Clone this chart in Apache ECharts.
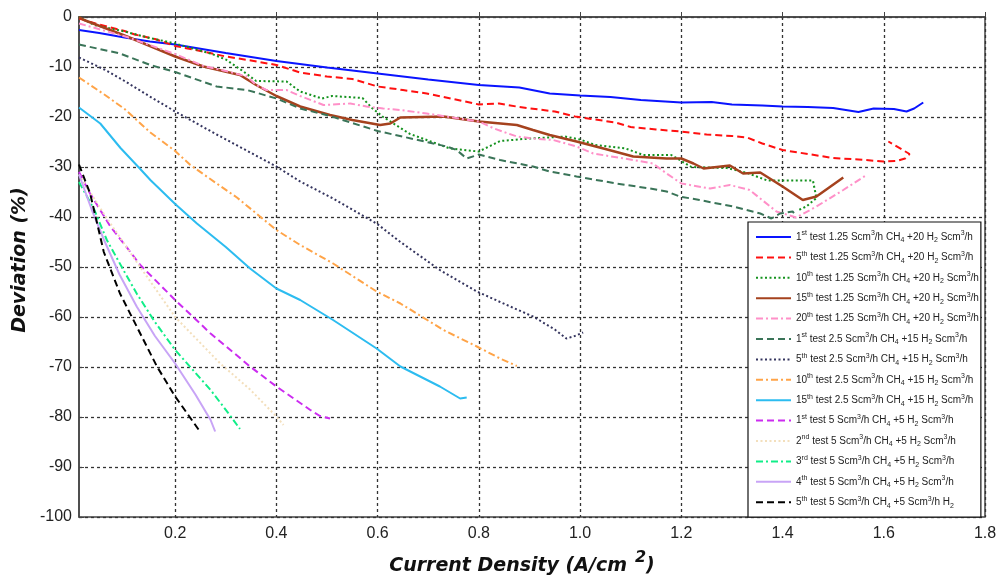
<!DOCTYPE html>
<html>
<head>
<meta charset="utf-8">
<script src="https://cdn.jsdelivr.net/npm/echarts@6/dist/echarts.min.js"></script>
<style>
  html, body { margin: 0; padding: 0; background: #fff; }
  #chart { width: 1002px; height: 575px; }
</style>
</head>
<body>
<div id="chart"></div>
<script>
// Deviation (%) versus current density (A/cm2) for each test run
const seriesNames = [
  '1st test 1.25 Scm3/h CH4 +20 H2 Scm3/h',
  '5th test 1.25 Scm3/h CH4 +20 H2 Scm3/h',
  '10th test 1.25 Scm3/h CH4 +20 H2 Scm3/h',
  '15th test 1.25 Scm3/h CH4 +20 H2 Scm3/h',
  '20th test 1.25 Scm3/h CH4 +20 H2 Scm3/h',
  '1st test 2.5 Scm3/h CH4 +15 H2 Scm3/h',
  '5th test 2.5 Scm3/h CH4 +15 H2 Scm3/h',
  '10th test 2.5 Scm3/h CH4 +15 H2 Scm3/h',
  '15th test 2.5 Scm3/h CH4 +15 H2 Scm3/h',
  '1st test 5 Scm3/h CH4 +5 H2 Scm3/h',
  '2nd test 5 Scm3/h CH4 +5 H2 Scm3/h',
  '3rd test 5 Scm3/h CH4 +5 H2 Scm3/h',
  '4th test 5 Scm3/h CH4 +5 H2 Scm3/h',
  '5th test 5 Scm3/h CH4 +5 Scm3/h H2'
];

const xTicks = [0.2, 0.4, 0.6, 0.8, 1.0, 1.2, 1.4, 1.6, 1.8];

const ch4_125_t1 = [[0.01,-2.6],[0.05,-3.2],[0.1,-4.1],[0.15,-4.9],[0.2,-5.5],[0.3,-7.2],[0.4,-8.8],[0.5,-10.1],[0.6,-11.3],[0.7,-12.5],[0.8,-13.6],[0.88,-14.1],[0.94,-15.3],[1.0,-15.7],[1.06,-16.0],[1.12,-16.6],[1.2,-17.1],[1.26,-17.0],[1.3,-17.5],[1.36,-17.7],[1.4,-17.9],[1.45,-18.0],[1.5,-18.2],[1.55,-19.0],[1.58,-18.3],[1.62,-18.4],[1.645,-18.9],[1.66,-18.3],[1.678,-17.1]];
const ch4_125_t5 = [[0.01,-0.3],[0.05,-1.5],[0.1,-2.8],[0.12,-3.5],[0.16,-4.4],[0.2,-5.8],[0.25,-6.8],[0.3,-7.9],[0.35,-8.7],[0.4,-9.6],[0.447,-11.1],[0.5,-11.9],[0.55,-12.4],[0.6,-13.9],[0.65,-14.6],[0.697,-15.3],[0.75,-16.4],[0.8,-17.5],[0.84,-17.3],[0.88,-18.0],[0.95,-18.9],[0.99,-19.9],[1.07,-21.1],[1.1,-22.0],[1.15,-22.5],[1.2,-22.9],[1.25,-23.5],[1.3,-23.8],[1.33,-24.1],[1.36,-25.3],[1.4,-26.6],[1.45,-27.4],[1.5,-28.2],[1.55,-28.5],[1.6,-28.9],[1.625,-28.8],[1.642,-28.3],[1.651,-27.4],[1.609,-24.9]];
const ch4_125_t10 = [[0.01,0],[0.04,-1.6],[0.1,-2.9],[0.15,-4.2],[0.2,-5.3],[0.27,-7.3],[0.3,-8.5],[0.335,-10.9],[0.36,-12.8],[0.42,-12.9],[0.447,-14.9],[0.49,-16.3],[0.51,-15.8],[0.57,-16.2],[0.59,-18.3],[0.611,-20.0],[0.664,-23.4],[0.697,-24.6],[0.743,-26.3],[0.8,-26.9],[0.842,-24.8],[0.9,-24.3],[0.97,-23.9],[1.0,-24.5],[1.03,-25.6],[1.09,-26.3],[1.125,-27.6],[1.18,-27.6],[1.22,-30.0],[1.29,-30.2],[1.33,-31.2],[1.37,-32.7],[1.46,-32.7],[1.467,-36.2],[1.447,-37.9],[1.43,-38.7]];
const ch4_125_t15 = [[0.01,0],[0.02,-0.6],[0.105,-3.9],[0.2,-7.9],[0.256,-9.9],[0.328,-11.6],[0.36,-13.6],[0.4,-15.8],[0.447,-17.9],[0.506,-19.6],[0.55,-20.6],[0.605,-21.6],[0.625,-21.3],[0.645,-20.1],[0.73,-19.9],[0.8,-20.9],[0.875,-21.6],[0.907,-22.6],[0.94,-23.6],[0.993,-24.9],[1.05,-26.4],[1.105,-27.9],[1.171,-28.3],[1.2,-28.3],[1.224,-29.3],[1.244,-30.3],[1.296,-29.7],[1.322,-31.3],[1.356,-31.1],[1.4,-33.9],[1.44,-36.6],[1.467,-35.9],[1.52,-32.1]];
const ch4_125_t20 = [[0.01,-1.3],[0.105,-4.0],[0.2,-7.4],[0.256,-9.8],[0.3,-10.8],[0.342,-11.9],[0.36,-13.6],[0.38,-14.6],[0.42,-14.6],[0.447,-15.8],[0.493,-17.6],[0.546,-17.3],[0.578,-17.9],[0.611,-18.3],[0.645,-18.6],[0.697,-19.3],[0.8,-20.9],[0.83,-22.3],[0.875,-23.9],[0.907,-24.3],[0.947,-24.6],[0.993,-25.9],[1.026,-27.3],[1.105,-28.6],[1.144,-29.3],[1.171,-31.3],[1.2,-33.3],[1.257,-34.3],[1.296,-33.6],[1.335,-34.6],[1.388,-38.9],[1.427,-40.1],[1.467,-37.9],[1.52,-34.6],[1.566,-31.6]];
const ch4_25_t1 = [[0.01,-5.5],[0.091,-7.3],[0.151,-9.6],[0.2,-11.0],[0.282,-13.9],[0.342,-14.6],[0.4,-16.3],[0.447,-18.3],[0.506,-19.8],[0.6,-22.8],[0.71,-25.3],[0.737,-25.9],[0.756,-26.6],[0.776,-28.3],[0.8,-27.5],[0.842,-28.6],[0.907,-29.9],[0.94,-30.9],[0.993,-31.9],[1.072,-33.3],[1.138,-34.3],[1.171,-34.9],[1.197,-35.9],[1.236,-36.6],[1.302,-37.9],[1.356,-39.3],[1.378,-40.3],[1.395,-39.3],[1.42,-38.9],[1.425,-39.5]];
const ch4_25_t5 = [[0.01,-8.1],[0.06,-10.5],[0.1,-12.8],[0.15,-15.9],[0.2,-18.9],[0.282,-23.5],[0.4,-29.9],[0.447,-32.9],[0.512,-36.3],[0.598,-41.3],[0.645,-45.0],[0.723,-50.6],[0.796,-54.9],[0.862,-57.9],[0.907,-59.9],[0.95,-62.5],[0.973,-64.3],[0.987,-63.9],[1.006,-63.1]];
const ch4_25_t10 = [[0.01,-12.1],[0.06,-15.5],[0.1,-18.4],[0.151,-23.1],[0.2,-26.8],[0.23,-29.6],[0.282,-33.3],[0.322,-36.1],[0.4,-42.6],[0.447,-45.6],[0.512,-49.3],[0.598,-54.9],[0.645,-57.3],[0.73,-62.6],[0.796,-65.9],[0.842,-68.3],[0.875,-69.8]];
const ch4_25_t15 = [[0.01,-18.1],[0.052,-21.3],[0.092,-26.2],[0.131,-30.4],[0.151,-32.6],[0.2,-37.4],[0.243,-41.3],[0.3,-46.0],[0.348,-50.3],[0.4,-54.3],[0.447,-56.6],[0.512,-60.6],[0.598,-66.3],[0.645,-69.9],[0.723,-73.9],[0.763,-76.3],[0.776,-76.1]];
const ch4_5_t1 = [[0.01,-31],[0.03,-35],[0.072,-41.9],[0.1,-45.5],[0.131,-49.6],[0.2,-56.6],[0.27,-63.3],[0.348,-69.9],[0.4,-73.9],[0.467,-78.6],[0.486,-79.8],[0.506,-80.3]];
const ch4_5_t2 = [[0.01,-31.5],[0.06,-39.5],[0.124,-49],[0.2,-60],[0.289,-69.3],[0.348,-74.5],[0.4,-79.9],[0.414,-81.6]];
const ch4_5_t3 = [[0.01,-33],[0.04,-38.5],[0.065,-44.6],[0.1,-51],[0.124,-55.3],[0.16,-61],[0.2,-66.6],[0.27,-74.6],[0.31,-79.9],[0.328,-82.4]];
const ch4_5_t4 = [[0.01,-31.5],[0.035,-38.5],[0.059,-44.5],[0.09,-51.5],[0.124,-57.9],[0.16,-63.8],[0.2,-69.3],[0.24,-75.5],[0.27,-80.6],[0.279,-82.9]];
const ch4_5_t5 = [[0.01,-29.5],[0.032,-35.3],[0.059,-47],[0.091,-55.3],[0.124,-61.9],[0.164,-69.9],[0.2,-75.9],[0.249,-82.9]];

const seriesData = [ch4_125_t1, ch4_125_t5, ch4_125_t10, ch4_125_t15, ch4_125_t20,
  ch4_25_t1, ch4_25_t5, ch4_25_t10, ch4_25_t15,
  ch4_5_t1, ch4_5_t2, ch4_5_t3, ch4_5_t4, ch4_5_t5];

// line appearance per run
const dash = [7, 4], dot = [2, 2.5], dashDot = [7, 3, 2, 3];
const styles = [
  { color: '#0a14ff', type: 'solid', width: 2 },
  { color: '#ff1010', type: dash, width: 2 },
  { color: '#14921e', type: dot, width: 2 },
  { color: '#a5421e', type: 'solid', width: 2.5 },
  { color: '#ff90c8', type: dashDot, width: 2 },
  { color: '#3a7458', type: dash, width: 2 },
  { color: '#34345e', type: dot, width: 2 },
  { color: '#ffa448', type: dashDot, width: 2 },
  { color: '#2cbcf0', type: 'solid', width: 2 },
  { color: '#cc2cf0', type: dash, width: 2 },
  { color: '#f3dfbc', type: dot, width: 2 },
  { color: '#10ee88', type: dashDot, width: 2 },
  { color: '#c8a4f6', type: 'solid', width: 2 },
  { color: '#000000', type: dash, width: 2 }
];

function richName(name) {
  return name
    .replace(/^(\d+)(st|nd|rd|th) /, '$1{sup|$2} ')
    .replace(/Scm3/g, 'Scm{sup|3}')
    .replace(/CH4/g, 'CH{sub|4}')
    .replace(/H2(?=\s|$)/g, 'H{sub|2}');
}

const chart = echarts.init(document.getElementById('chart'), null, { renderer: 'canvas' });

const gridLine = { show: true, lineStyle: { color: '#333', width: 1.3, type: [3, 3] } };

chart.setOption({
  animation: false,
  backgroundColor: '#fff',
  grid: {
    left: 79, right: 17, top: 17, bottom: 58,
    outerBoundsMode: 'none', containLabel: false,
    show: true, borderColor: '#444', borderWidth: 1.5
  },
  xAxis: {
    type: 'value', min: 0.01, max: 1.8,
    name: '{a|Current Density (A/cm}{s|2}{a|)}',
    nameLocation: 'middle', nameGap: 33,
    nameTextStyle: {
      padding: [0, 20, 0, 0],
      rich: {
        a: { fontFamily: 'DejaVu Sans', fontWeight: 'bold', fontStyle: 'italic', fontSize: 19, color: '#111', lineHeight: 26, verticalAlign: 'bottom' },
        s: { fontFamily: 'DejaVu Sans', fontWeight: 'bold', fontStyle: 'italic', fontSize: 16, color: '#111', lineHeight: 26, verticalAlign: 'top', padding: [0, 0, 0, 8] }
      }
    },
    axisLine: { show: true, lineStyle: { color: '#444', width: 1.5 } },
    axisTick: { show: true, inside: true, length: 5, customValues: xTicks, lineStyle: { color: '#444' } },
    axisLabel: { customValues: xTicks, formatter: v => v.toFixed(1), fontFamily: 'Liberation Sans', fontSize: 16, color: '#222', margin: 9 },
    splitLine: gridLine
  },
  yAxis: {
    type: 'value', min: -100, max: 0, interval: 10,
    name: 'Deviation (%)', nameLocation: 'middle', nameGap: 48,
    nameTextStyle: { fontFamily: 'DejaVu Sans', fontWeight: 'bold', fontStyle: 'italic', fontSize: 19, color: '#111', padding: [0, 0, 0, 14] },
    axisLine: { show: true, lineStyle: { color: '#444', width: 1.5 } },
    axisTick: { show: true, inside: true, length: 5, lineStyle: { color: '#444' } },
    axisLabel: { fontFamily: 'Liberation Sans', fontSize: 16, color: '#222', margin: 7 },
    splitLine: gridLine
  },
  legend: {
    orient: 'vertical', left: 748, top: 222,
    padding: [8, 2, 8, 7],
    itemWidth: 35, itemHeight: 12, itemGap: 6.4,
    backgroundColor: '#fff', borderColor: '#111', borderWidth: 1.2,
    itemStyle: { opacity: 0 },
    data: seriesNames,
    formatter: richName,
    textStyle: {
      fontFamily: 'Liberation Sans', fontSize: 10, color: '#222', lineHeight: 14,
      rich: {
        sup: { fontFamily: 'Liberation Sans', fontSize: 7, color: '#222', verticalAlign: 'top', lineHeight: 14 },
        sub: { fontFamily: 'Liberation Sans', fontSize: 7, color: '#222', verticalAlign: 'bottom', lineHeight: 12 }
      }
    }
  },
  series: seriesNames.map((name, i) => ({
    name,
    type: 'line',
    data: seriesData[i],
    showSymbol: false,
    symbol: 'none',
    lineStyle: styles[i],
    itemStyle: { color: styles[i].color }
  }))
});
</script>
</body>
</html>
